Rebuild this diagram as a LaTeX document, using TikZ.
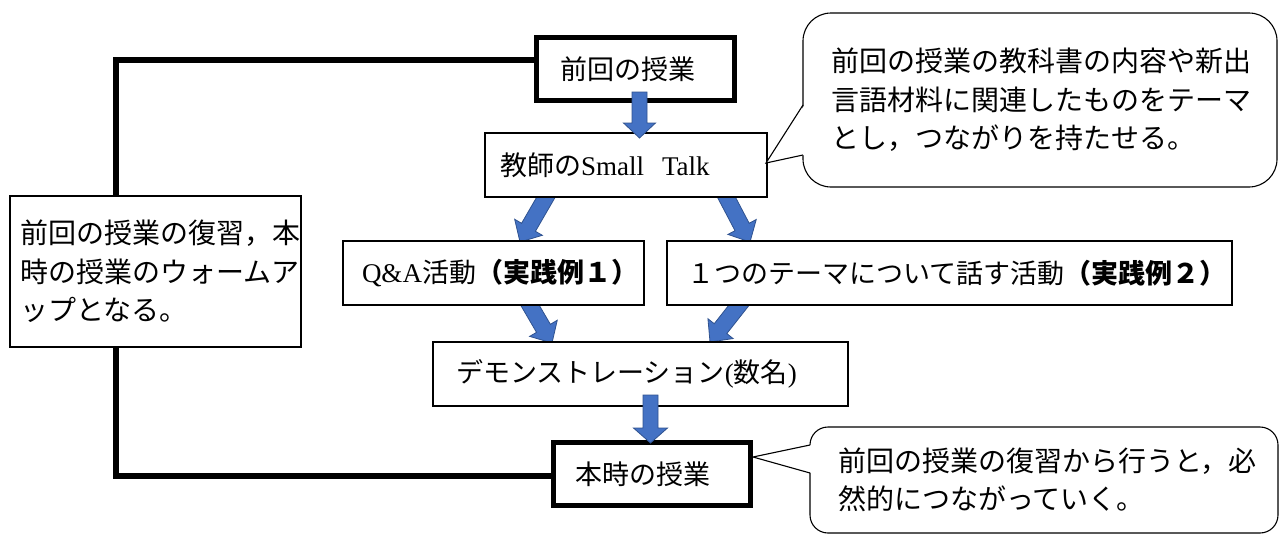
\documentclass[tikz,border=0pt]{standalone}
\usepackage{fontspec}
\setmainfont{Liberation Serif}
\newfontfamily\jp{Noto Sans CJK JP}
\usetikzlibrary{calc}
\pgfdeclarelayer{bg}
\pgfsetlayers{bg,main}
\definecolor{arrowfill}{HTML}{4472C4}
\definecolor{arrowedge}{HTML}{2F528F}
\newcommand\lat[1]{{\rmfamily\mdseries #1}}
% block arrow: start, end, shaft half width, head half width, head length
\newcommand\barrow[5]{%
  \coordinate (ba) at (#1); \coordinate (bb) at (#2);
  \coordinate (bh) at ($(bb)!#5pt!(ba)$);
  \draw[blockarrow] ($(ba)!#3pt!90:(bb)$) -- ($(bh)!#3pt!90:(bb)$) -- ($(bh)!#4pt!90:(bb)$) -- (bb)
     -- ($(bh)!#4pt!-90:(bb)$) -- ($(bh)!#3pt!-90:(bb)$) -- ($(ba)!#3pt!-90:(bb)$) -- cycle;}
\begin{document}
\begin{tikzpicture}[x=1pt,y=-1pt,
  blockarrow/.style={fill=arrowfill,draw=arrowedge,line width=0.8pt,line join=miter},
  box/.style={draw=black,line width=1.1pt,fill=white,inner sep=0pt,align=left,
    font=\jp\fontsize{27}{38}\selectfont},
  thickbox/.style={box,line width=5pt},
  bubble/.style={box,rounded corners=#1,font=\jp\fontsize{28}{38.5}\selectfont},
  looppath/.style={line width=6pt,line join=miter}]
\useasboundingbox (0,0) rectangle (1280,536);

% boxes
\node[thickbox,minimum width=198,minimum height=63,text width=151] (prev) at (635.5,69) {前回の授業};
\node[box,minimum width=282,minimum height=64,text width=252] (talk) at (626,165) {教師の\lat{Small\ \ Talk}};
\node[box,minimum width=301,minimum height=64,text width=263] (qa) at (493.5,273) {\lat{Q\&A}活動{\bfseries （実践例１）}};
\node[box,minimum width=565,minimum height=64,text width=525] (theme) at (949.5,273) {１つのテーマについて話す活動{\bfseries （実践例２）}};
\node[box,minimum width=415,minimum height=64,text width=369] (demo) at (640.5,374) {デモンストレーション\lat{(}数名\lat{)}};
\node[thickbox,minimum width=197,minimum height=63,text width=154] (now) at (652,474) {本時の授業};
\node[box,minimum width=291,minimum height=151,text width=271,
  font=\jp\fontsize{28}{38.5}\selectfont] (note) at (155.5,271.5)
  {前回の授業の復習，本\\時の授業のウォームア\\ップとなる。};

% loop line and diagonal arrows behind the boxes
\coordinate (ytop) at (0,60);
\coordinate (ybot) at (0,476);
\coordinate (corner) at (116,476);
\coordinate (a1s) at (553,185); \coordinate (a1e) at (520,242);
\coordinate (a2s) at (720,185); \coordinate (a2e) at (750,242);
\coordinate (a3s) at (524,295); \coordinate (a3e) at (552,343);
\coordinate (a4s) at (747,295); \coordinate (a4e) at (710,342);
\begin{pgfonlayer}{bg}
\draw[looppath] (prev.west |- ytop) -| (corner) -- (now.west |- ybot);
\barrow{a1s}{a1e}{8}{16}{17}
\barrow{a2s}{a2e}{8}{16}{17}
\barrow{a3s}{a3e}{8}{16}{17}
\barrow{a4s}{a4e}{8}{16}{17}
\end{pgfonlayer}

% vertical arrows on top
\coordinate (v1s) at (639.5,92); \coordinate (v1e) at (639.5,138);
\coordinate (v2s) at (650.5,395); \coordinate (v2e) at (650.5,443);
\barrow{v1s}{v1e}{7.5}{16}{15}
\barrow{v2s}{v2e}{7.5}{17}{15}

% callout 1
\node[bubble=28,minimum width=474,minimum height=174,text width=418] (c1) at (1040,100)
  {前回の授業の教科書の内容や新出\\言語材料に関連したものをテーマ\\とし，つながりを持たせる。};
\coordinate (c1a) at (803,105); \coordinate (c1t) at (766,163); \coordinate (c1b) at (803,155);
\fill[white] ($(c1a)+(1.5,0)$) -- (c1t) -- ($(c1b)+(1.5,0)$) -- cycle;
\draw[line width=1.1pt,line join=miter] (c1a) -- (c1t) -- (c1b);

% callout 2
\node[bubble=18,minimum width=468,minimum height=106,text width=412] (c2) at (1044,480)
  {前回の授業の復習から行うと，必\\然的につながっていく。};
\coordinate (c2a) at (810,445); \coordinate (c2t) at (753,457); \coordinate (c2b) at (810,473);
\fill[white] ($(c2a)+(1.5,0)$) -- (c2t) -- ($(c2b)+(1.5,0)$) -- cycle;
\draw[line width=1.1pt,line join=miter] (c2a) -- (c2t) -- (c2b);
\end{tikzpicture}
\end{document}
